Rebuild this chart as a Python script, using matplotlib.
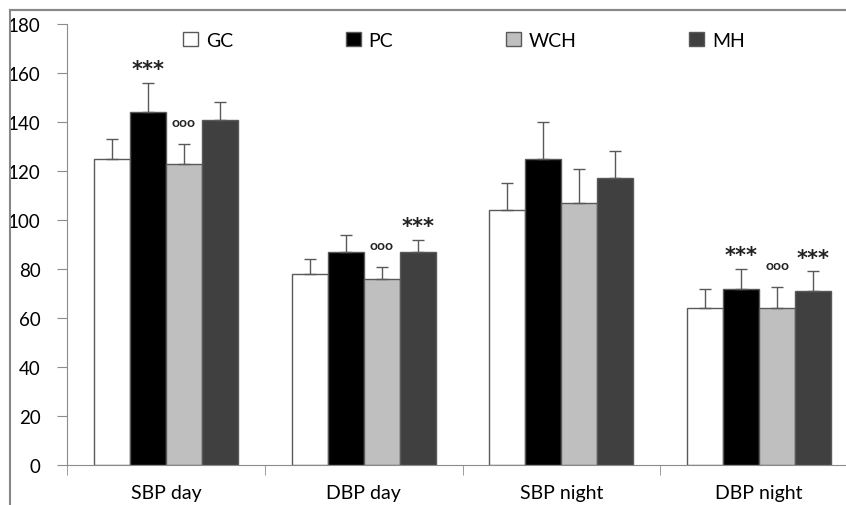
import numpy as np
import matplotlib
matplotlib.use('Agg')
import matplotlib.pyplot as plt
from matplotlib.patches import Patch
from matplotlib.lines import Line2D

plt.rcParams['font.family'] = ['Lato', 'DejaVu Sans']

categories = ['SBP day', 'DBP day', 'SBP night', 'DBP night']
groups = ['GC', 'PC', 'WCH', 'MH']
colors = ['white', 'black', '#bfbfbf', '#404040']

gc = [125, 78, 104, 64]
pc = [144, 87, 125, 72]
wch = [123, 76, 107, 64]
mh = [141, 87, 117, 71]
values = [gc, pc, wch, mh]

gc_err = [8, 6, 11, 8]
pc_err = [12, 7, 15, 8]
wch_err = [8, 5, 14, 8.5]
mh_err = [7, 5, 11, 8]
errors = [gc_err, pc_err, wch_err, mh_err]

# significance marks: (category, group, symbol)
marks = [(0, 1, '***'), (0, 2, 'ooo'), (1, 2, 'ooo'), (1, 3, '***'),
         (3, 1, '***'), (3, 2, 'ooo'), (3, 3, '***')]

fig = plt.figure(figsize=(8.46, 5.06), dpi=100)

# outer frame of the original chart (left and top edges)
fx = 10 / 846
fy = 1 - 11 / 506
fig.add_artist(Line2D([fx, fx], [0, fy], color='#888888', linewidth=1.5,
                      transform=fig.transFigure))
fig.add_artist(Line2D([fx, 1], [fy, fy], color='#888888', linewidth=1.5,
                      transform=fig.transFigure))

ax = fig.add_axes([67/846, 40/506, 791/846, 441/506])

x = np.arange(len(categories))
w = 0.182
edge = '#595959'
for i in range(4):
    xs = x + (i - 1.5) * w
    ax.bar(xs, values[i], w, color=colors[i], edgecolor=edge, linewidth=1,
           label=groups[i], zorder=2)
    ax.errorbar(xs, values[i], yerr=[np.zeros(4), errors[i]], fmt='none',
                ecolor=edge, elinewidth=1, capsize=4, capthick=1, zorder=3)

for c, g, s in marks:
    xc = x[c] + (g - 1.5) * w
    top = values[g][c] + errors[g][c]
    if s == '***':
        ax.text(xc, top + 1.5, s, ha='center', va='bottom', fontsize=15,
                fontweight='bold', color='#222222', family='DejaVu Sans')
    else:
        ax.text(xc, top + 6.5, s, ha='center', va='bottom', fontsize=10,
                fontweight='bold', color='#222222')

ax.set_ylim(0, 180)
ax.set_xlim(-0.5, 3.5)
ax.set_yticks(np.arange(0, 181, 20))
ax.set_xticks(x)
ax.set_xticklabels(categories)
ax.set_xticks(np.arange(-0.5, 3.6, 1), minor=True)
ax.tick_params(axis='x', which='major', length=0, pad=14, labelsize=14)
ax.tick_params(axis='x', which='minor', length=7, color='#8c8c8c')
ax.tick_params(axis='y', length=7, color='#8c8c8c', pad=12, labelsize=13.5)
for s in ['top', 'right']:
    ax.spines[s].set_visible(False)
for s in ['left', 'bottom']:
    ax.spines[s].set_color('#8c8c8c')

# top edge of the frame again, drawn from the axes so it sits above everything
ax.plot([(10 - 67) / 791, 1.0], [(495 - 40) / 441] * 2, color='#888888',
        linewidth=1.5, transform=ax.transAxes, clip_on=False, zorder=5)

handles = [Patch(facecolor=colors[i], edgecolor=edge, label=groups[i]) for i in range(4)]
ax.legend(handles=handles, ncol=4, loc='upper left', bbox_to_anchor=(0.137, 1.0),
          frameon=False, fontsize=14, handlelength=0.77, handleheight=0.77,
          handletextpad=0.4, columnspacing=5.8, borderaxespad=0)

fig.savefig('out.png', dpi=100)
